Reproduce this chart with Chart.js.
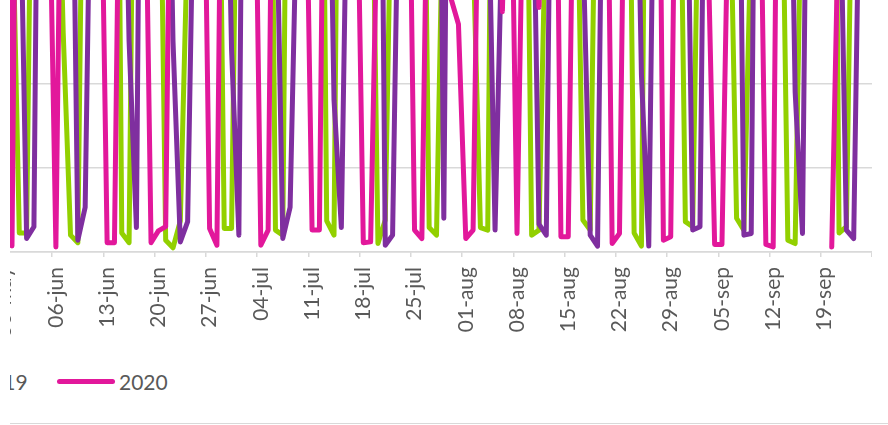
<!DOCTYPE html>
<html>
<head>
<meta charset="utf-8">
<title>2018 - 2020</title>
<script src="https://cdn.jsdelivr.net/npm/chart.js@4.4.1/dist/chart.umd.min.js"></script>
<style>
  html, body { margin: 0; padding: 0; background: #fff; }
  body { width: 888px; height: 425px; overflow: hidden; position: relative; font-family: Lato, sans-serif; }
  /* the picture is a crop: everything left of x=10 and above y=0 is cut away */
  #frame { position: absolute; left: 10px; top: 0; width: 878px; height: 425px; overflow: hidden; }
  #plot { position: absolute; left: -9px; top: -760px; }
  .item { position: absolute; top: 368px; height: 27px; display: flex; align-items: center; white-space: nowrap; }
  .swatch { width: 58px; height: 5px; border-radius: 3px; margin-right: 4px; }
  .txt { font-size: 21px; color: #595959; line-height: 27px; }
  #rule { position: absolute; left: 0; top: 423px; width: 878px; height: 1px; background: #d9d9d9; }
</style>
</head>
<body>
<div id="frame">
  <canvas id="plot" width="871" height="1112"></canvas>
  <div id="legend"></div>
  <div id="rule"></div>
</div>
<script>
// day-month categories, 30-may .. 25-sep
const monthSpans = [
  ["may", 30, 31],
  ["jun", 1, 30],
  ["jul", 1, 31],
  ["aug", 1, 31],
  ["sep", 1, 25],
];

const yearLabels = ["2018", "2019", "2020"];
const yearColours = ["#7f2f9f", "#92d000", "#e2189b"];

// one row per week, starting 30-may
const values2018 = [
  65, 70, 51, 1.6, 3.0, 100, 68,
  72, 66, 71, 1.4, 5.3, 63, 70,
  67, 73, 69, 25, 2.9, 110, 70,
  66, 72, 25, 1.2, 3.6, 54, 71,
  68, 73, 67, 24, 2.0, 110, 69,
  72, 66, 49, 1.6, 5.3, 45, 70,
  67, 73, 70, 18, 2.9, 58, 69,
  72, 66, 100, 0.8, 2.0, 56, 71,
  68, 73, 67, 100, 4.0, 110, 70,
  66, 72, 69, 47, 2.6, 40, 71,
  68, 73, 57, 3.3, 2.0, 80, 67,
  72, 69, 37, 2.0, 0.7, 74, 70,
  66, 72, 68, 21, 0.7, 69, 73,
  67, 71, 63, 2.6, 3.0, 85, 70,
  68, 72, 85, 2.0, 2.2, 110, 69,
  71, 67, 72, 19, 2.2, 87, 70,
  68, 73, 52, 2.6, 1.6, 58, 69,
];

const values2019 = [
  60, 43.5, 2.25, 2.25, 74, 70, 66,
  60, 26, 2.0, 1.1, 75, 68, 72,
  69, 110, 2.25, 1.1, 85, 70, 73,
  65, 1.4, 0.5, 3.7, 38, 70, 66,
  71, 74, 2.8, 2.8, 67, 72, 68,
  70, 95, 2.6, 2.0, 100, 71, 67,
  73, 100, 3.7, 2.0, 100, 70, 68,
  72, 61, 1.0, 3.8, 53, 70, 66,
  71, 73, 2.9, 2.0, 48, 69, 72,
  67, 36, 2.9, 2.6, 100, 70, 67,
  72, 75, 2.0, 2.6, 43, 70, 66,
  72, 58, 3.8, 2.6, 65, 71, 68,
  73, 77, 2.25, 0.7, 100, 69, 72,
  66, 68, 3.6, 3.0, 56, 70, 67,
  73, 49, 4.0, 2.6, 39, 70, 68,
  72, 61, 1.4, 1.0, 51, 69, 73,
  70, 110, 2.25, 3.0, 59, 71, 66,
];

const values2020 = [
  100, 0.7, 95, 68, 71, 66, 50,
  0.6, 72, 68, 74, 70, 66, 58,
  1.1, 1.1, 71, 72, 69, 60, 1.1,
  2.5, 3.0, 76, 66, 73, 70, 65,
  2.8, 0.8, 85, 75, 68, 71, 63,
  0.8, 2.6, 89, 64, 70, 73, 57,
  2.6, 2.6, 85, 72, 67, 70, 55,
  1.1, 1.2, 45, 68, 74, 71, 67,
  2.6, 1.6, 61, 69, 72, 30, 27,
  1.6, 2.6, 63, 70, 65, 28.5, 60,
  2.2, 53, 60, 29, 60, 84, 1.8,
  1.8, 68, 70, 66, 73, 76, 1.0,
  2.2, 72, 71, 68, 74, 95, 1.4,
  1.8, 78, 69, 72, 67, 40, 0.9,
  0.9, 49, 70, 66, 72, 61, 0.9,
  0.6, 95, 68, 73, 70, 65, 71,
  null, 0.6, 43, 60, 65, 62, 70,
];

const seriesValues = [values2018, values2019, values2020];
// 2020 drawn on top, then 2018, then 2019
const drawOrder = [1, 2, 0];

const labelEvery = 7;
const grey = "#d9d9d9";
const textGrey = "#595959";

function makeDays(spans) {
  const days = [];
  for (let i = 0; i < spans.length; i++) {
    const [month, first, last] = spans[i];
    for (let d = first; d <= last; d++) {
      days.push(String(d).padStart(2, "0") + "-" + month);
    }
  }
  return days;
}

function makeLegend() {
  const legend = document.getElementById("legend");
  for (let i = 0; i < yearLabels.length; i++) {
    const item = document.createElement("div");
    item.className = "item";
    item.style.left = 47 - (yearLabels.length - 1 - i) * 140 + "px";
    const swatch = document.createElement("span");
    swatch.className = "swatch";
    swatch.style.background = yearColours[i];
    const txt = document.createElement("span");
    txt.className = "txt";
    txt.textContent = yearLabels[i];
    item.appendChild(swatch);
    item.appendChild(txt);
    legend.appendChild(item);
  }
}

function makeChart() {
  const days = makeDays(monthSpans);

  const datasets = [];
  for (let i = 0; i < yearLabels.length; i++) {
    datasets.push({
      label: yearLabels[i],
      data: seriesValues[i],
      borderColor: yearColours[i],
      backgroundColor: yearColours[i],
      borderWidth: 5,
      borderJoinStyle: "round",
      borderCapStyle: "round",
      pointRadius: 0,
      tension: 0,
      spanGaps: false,
      order: drawOrder[i],
    });
  }

  new Chart(document.getElementById("plot"), {
    type: "line",
    data: { labels: days, datasets: datasets },
    options: {
      responsive: false,
      animation: false,
      devicePixelRatio: 1,
      layout: { autoPadding: false, padding: 0 },
      plugins: {
        legend: { display: false },
        tooltip: { enabled: false },
      },
      scales: {
        x: {
          type: "category",
          offset: true,
          afterFit: (scale) => {
            scale.height = 100;
            scale.paddingLeft = 0;
            scale.paddingRight = 0;
          },
          border: { display: true, color: grey, width: 1.5 },
          grid: {
            offset: true,
            drawOnChartArea: false,
            drawTicks: true,
            tickLength: 5,
            lineWidth: 1.5,
            color: (ctx) =>
              ctx.index === undefined || ctx.index % labelEvery === 0 ? grey : "rgba(0,0,0,0)",
          },
          ticks: {
            autoSkip: false,
            minRotation: 90,
            maxRotation: 90,
            padding: 10,
            color: textGrey,
            font: { family: "Lato", size: 21 },
            callback: function (value, index) {
              return index % labelEvery === 0 ? this.getLabelForValue(value) : "";
            },
          },
        },
        y: {
          min: 0,
          max: 120,
          afterFit: (scale) => {
            scale.width = 0;
            scale.paddingTop = 0;
            scale.paddingBottom = 0;
          },
          border: { display: false },
          grid: { color: grey, lineWidth: 1.5, drawTicks: false },
          ticks: { display: false, stepSize: 10 },
        },
      },
    },
  });
}

makeLegend();
makeChart();
</script>
</body>
</html>
